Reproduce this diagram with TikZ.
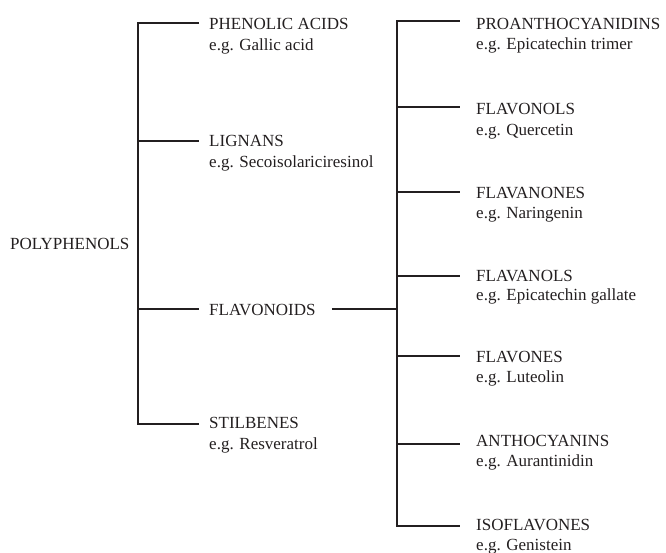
\documentclass[tikz,border=0pt]{standalone}
\usepackage{fontspec}
\setmainfont{Liberation Serif}
\usetikzlibrary{calc}
\definecolor{ink}{HTML}{231F20}
\begin{document}
\begin{tikzpicture}[x=1pt,y=-1pt,
  txt/.style={inner ysep=0pt, anchor=base west, text=ink, font=\fontsize{17}{20}\selectfont},
  ltxt/.style={txt, inner xsep=10pt},
  rtxt/.style={txt, inner xsep=16.5pt},
  conn/.style={line width=1.8pt, draw=ink}]
\useasboundingbox (0,0) rectangle (666,553);
% root
\node[txt, inner xsep=0pt] (poly) at (10,250) {POLYPHENOLS};
% left level
\coordinate (jl1) at (138,22.7);
\coordinate (jl2) at (138,140.7);
\coordinate (jl3) at (138,309.3);
\coordinate (jl4) at (138,424);
\node[ltxt] (pa) at (199,30) {PHENOLIC ACIDS};
\node[ltxt] (paex) at (199,50.5) {e.g. Gallic acid};
\node[ltxt] (lg) at (199,147) {LIGNANS};
\node[ltxt] (lgex) at (199,168) {e.g. Secoisolariciresinol};
\node[ltxt] (fl) at (199,315.7) {FLAVONOIDS};
\node[ltxt] (st) at (199,428.3) {STILBENES};
\node[ltxt] (stex) at (199,449.5) {e.g. Resveratrol};
\draw[conn] (jl1 -| pa.west) -- (jl1) -- (jl4) -- (jl4 -| st.west);
\draw[conn] (jl2) -- (jl2 -| lg.west);
\draw[conn] (jl3) -- (jl3 -| fl.west);
% right level
\coordinate (jr1) at (397.3,21.3);
\coordinate (jr2) at (397.3,107.3);
\coordinate (jr3) at (397.3,192.3);
\coordinate (jr4) at (397.3,276.2);
\coordinate (jr5) at (397.3,355.7);
\coordinate (jr6) at (397.3,443.7);
\coordinate (jr7) at (397.3,526);
\coordinate (jrf) at (397.3,309);
\node[rtxt] (pr) at (459.5,29.3) {PROANTHOCYANIDINS};
\node[rtxt] (prex) at (459.5,50) {e.g. Epicatechin trimer};
\node[rtxt] (fo) at (459.5,115) {FLAVONOLS};
\node[rtxt] (foex) at (459.5,135.5) {e.g. Quercetin};
\node[rtxt] (fn) at (459.5,198.5) {FLAVANONES};
\node[rtxt] (fnex) at (459.5,218.5) {e.g. Naringenin};
\node[rtxt] (fa) at (459.5,281.5) {FLAVANOLS};
\node[rtxt] (faex) at (459.5,300.5) {e.g. Epicatechin gallate};
\node[rtxt] (fv) at (459.5,362.3) {FLAVONES};
\node[rtxt] (fvex) at (459.5,382.5) {e.g. Luteolin};
\node[rtxt] (an) at (459.5,446.7) {ANTHOCYANINS};
\node[rtxt] (anex) at (459.5,466.7) {e.g. Aurantinidin};
\node[rtxt] (is) at (459.5,530.7) {ISOFLAVONES};
\node[rtxt] (isex) at (459.5,550.5) {e.g. Genistein};
\draw[conn] (jr1 -| pr.west) -- (jr1) -- (jr7) -- (jr7 -| is.west);
\draw[conn] (jr2) -- (jr2 -| fo.west);
\draw[conn] (jr3) -- (jr3 -| fn.west);
\draw[conn] (jr4) -- (jr4 -| fa.west);
\draw[conn] (jr5) -- (jr5 -| fv.west);
\draw[conn] (jr6) -- (jr6 -| an.west);
\draw[conn] ($(jrf -| fl.east)+(6,0)$) -- (jrf);
\end{tikzpicture}
\end{document}
